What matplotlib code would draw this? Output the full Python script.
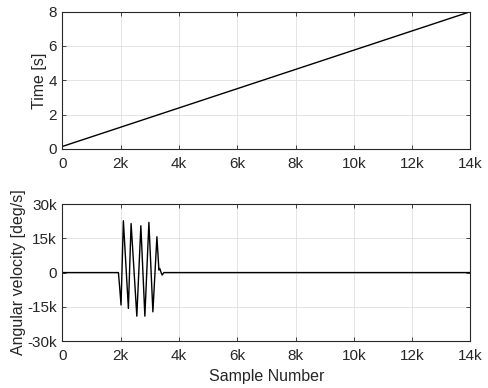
import matplotlib
matplotlib.use("Agg")
import matplotlib.pyplot as plt
from matplotlib.ticker import FuncFormatter

plt.rcParams.update({
    'font.family': ['Liberation Sans', 'DejaVu Sans'],
    'font.size': 11,
    'axes.labelsize': 11.5,
    'axes.edgecolor': '#262626',
    'axes.linewidth': 0.8,
    'axes.labelcolor': '#262626',
    'xtick.color': '#262626',
    'ytick.color': '#262626',
    'xtick.direction': 'in',
    'ytick.direction': 'in',
    'xtick.top': True,
    'ytick.right': True,
})

# top panel: time vs sample number
time_samples = [0, 14000]
time_values = [0.15, 8.0]

# bottom panel: angular velocity
vel_samples = [0, 1920, 1960, 2010, 2090, 2262, 2355, 2552, 2690, 2828,
               2966, 3103, 3241, 3310, 3340, 3380, 3420, 3480, 14000]
vel_values = [0, 0, -6000, -14200, 22700, -15700, 21500, -19100, 20500, -19100,
              22000, -17200, 15700, 1100, 1800, 200, -1100, 0, 0]

x_ticks = [0, 2000, 4000, 6000, 8000, 10000, 12000, 14000]
vel_ticks = [-30000, -15000, 0, 15000, 30000]


def k_fmt(v, pos):
    if v == 0:
        return '0'
    return '%dk' % int(v / 1000)


fig = plt.figure(figsize=(4.88, 3.88), dpi=100)
ax1 = fig.add_axes([0.128, 0.616, 0.836, 0.354])
ax2 = fig.add_axes([0.128, 0.121, 0.836, 0.353])

grid_kw = dict(color='#dfdfdf', linewidth=0.6)

ax1.plot(time_samples, time_values, color='black', linewidth=1.0)
ax1.set_xlim(0, 14000)
ax1.set_ylim(0, 8)
ax1.set_xticks(x_ticks)
ax1.set_yticks([0, 2, 4, 6, 8])
ax1.xaxis.set_major_formatter(FuncFormatter(k_fmt))
ax1.set_ylabel('Time [s]', labelpad=1)
ax1.grid(True, **grid_kw)
ax1.set_axisbelow(True)

ax2.plot(vel_samples, vel_values, color='black', linewidth=1.0)
ax2.set_xlim(0, 14000)
ax2.set_ylim(-30000, 30000)
ax2.set_xticks(x_ticks)
ax2.set_yticks(vel_ticks)
ax2.xaxis.set_major_formatter(FuncFormatter(k_fmt))
ax2.yaxis.set_major_formatter(FuncFormatter(k_fmt))
ax2.set_xlabel('Sample Number', labelpad=4)
ax2.set_ylabel('Angular velocity [deg/s]', labelpad=1)
ax2.grid(True, **grid_kw)
ax2.set_axisbelow(True)

for ax in (ax1, ax2):
    ax.tick_params(axis='x', length=3, width=0.6, pad=6)
    ax.tick_params(axis='y', length=3, width=0.6, pad=4)

fig.savefig('out.png', dpi=100)
